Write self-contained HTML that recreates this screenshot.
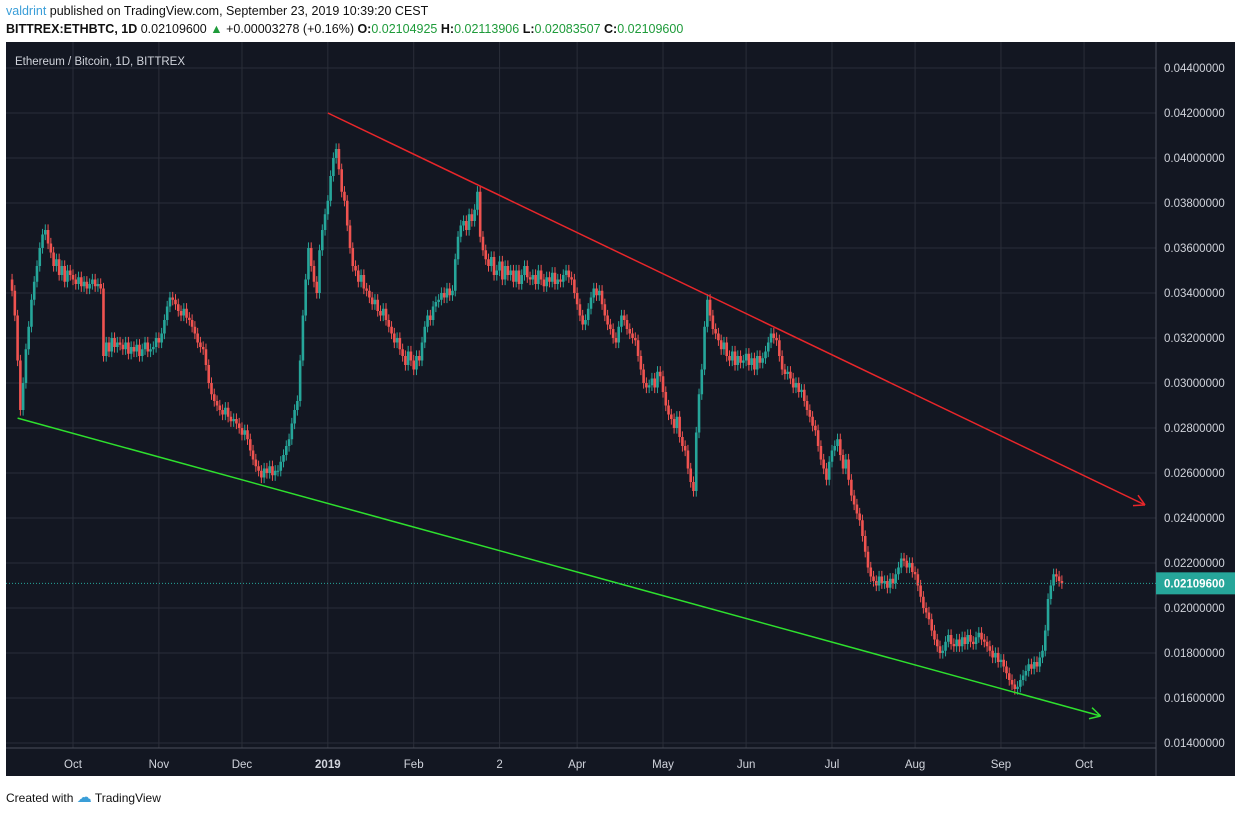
<!DOCTYPE html>
<html><head><meta charset="utf-8">
<style>
body{margin:0;width:1242px;height:813px;background:#fff;font-family:"Liberation Sans",sans-serif;overflow:hidden;position:relative}
.h{position:absolute;left:6px;font-size:12.5px;color:#111;white-space:nowrap}
.g{color:#1e9b3a}
</style></head><body>
<div class="h" style="top:4px"><span style="color:#3a9ed8">valdrint</span> published on TradingView.com, September 23, 2019 10:39:20 CEST</div>
<div class="h" style="top:22px"><b>BITTREX:ETHBTC, 1D</b> 0.02109600 <span class="g">▲</span> +0.00003278 (+0.16%) <b>O:</b><span class="g">0.02104925</span> <b>H:</b><span class="g">0.02113906</span> <b>L:</b><span class="g">0.02083507</span> <b>C:</b><span class="g">0.02109600</span></div>
<svg id="c" width="1242" height="813" style="position:absolute;left:0;top:0"></svg>
<div class="h" style="top:788px;font-size:12px">Created with <span style="color:#3a9ed8;font-size:15px">☁</span> TradingView</div>
<script>
const closes=[341,330,310,288,300,315,325,337,345,352,360,366,368,362,358,352,355,348,352,345,350,348,346,344,347,343,345,342,344,346,343,344,342,312,318,314,320,316,318,317,315,318,313,316,314,317,312,315,318,314,315,316,320,318,322,328,334,338,337,335,332,330,333,329,328,325,322,318,316,315,308,300,295,292,290,288,286,289,285,283,284,282,280,277,279,275,270,266,263,261,258,262,260,263,259,261,261,265,268,272,275,282,288,292,310,330,346,360,352,345,340,359,368,375,381,392,400,404,395,385,381,370,360,352,350,345,348,342,341,338,335,337,332,330,333,328,325,322,318,320,315,312,308,314,310,306,312,310,318,325,330,328,334,336,337,340,338,342,339,341,355,365,370,372,368,375,372,377,385,365,359,355,352,356,348,350,354,346,352,348,350,345,350,344,348,352,347,346,348,344,350,346,343,347,345,349,344,346,345,348,350,347,346,340,335,330,326,328,333,338,342,339,341,335,330,326,324,320,318,325,330,328,324,322,320,319,312,306,300,298,299,302,298,305,303,296,290,286,284,280,285,276,272,270,262,256,252,278,295,306,325,337,330,324,322,319,315,318,312,310,314,308,312,309,310,313,308,311,306,312,309,311,314,318,322,320,319,312,306,304,305,302,298,300,296,297,292,288,285,281,279,272,266,262,257,265,270,272,275,268,262,266,257,250,246,242,239,232,225,218,214,212,210,214,211,212,209,213,211,215,218,222,221,218,220,216,215,210,205,200,198,195,190,186,183,180,181,185,188,184,183,186,183,187,184,188,185,184,187,189,186,185,183,181,178,180,176,177,174,171,168,166,164,165,168,170,172,175,173,176,174,178,181,190,204,210,215,214,212,211];
const yTicks=[0.014,0.016,0.018,0.020,0.022,0.024,0.026,0.028,0.030,0.032,0.034,0.036,0.038,0.040,0.042,0.044];
const monthLabels=["Oct","Nov","Dec","2019","Feb","2","Apr","May","Jun","Jul","Aug","Sep","Oct"];
const monthDays=[0,31,61,92,123,154,182,213,243,274,304,335,365];
const lastDay=357;
const redLine=[[92,0.0420],[387,0.02458]];
const greenLine=[[-20,0.02844],[371,0.0152]];
const lastPrice=0.021096;
const ns="http://www.w3.org/2000/svg",svg=document.getElementById('c');
const X=d=>73+d*2.77, Y=v=>563-(v-0.022)/0.002*45;
function el(t,a,p){const e=document.createElementNS(ns,t);for(const k in a)e.setAttribute(k,a[k]);(p||svg).appendChild(e);return e;}
let e=el('rect',{x:6,y:42,width:1229,height:734,fill:'#131722'});

yTicks.forEach(v=>{let l=el('line',{x1:6,x2:1156,y1:Y(v),y2:Y(v),stroke:'#2a2e39'});
let t=el('text',{x:1164,y:Y(v)+4,fill:'#d1d4dc','font-size':11.5});t.textContent=v.toFixed(8);});
monthLabels.forEach((m,i)=>{const x=X(monthDays[i]);let l=el('line',{x1:x,x2:x,y1:42,y2:748,stroke:'#2a2e39'});
let t=el('text',{x:x,y:768,fill:'#d1d4dc','font-size':11.5,'text-anchor':'middle','font-weight':m=='2019'?'bold':'normal'});t.textContent=m;});
el('line',{x1:6,x2:1156,y1:748,y2:748,stroke:'#4a4e59'});
el('line',{x1:1156,x2:1156,y1:42,y2:776,stroke:'#4a4e59'});
let tt=el('text',{x:15,y:65,fill:'#d1d4dc','font-size':11.5});tt.textContent='Ethereum / Bitcoin, 1D, BITTREX';

const N=closes.length;
closes.forEach((c,i)=>{const cv=c/1e4,ov=(i?closes[i-1]:c+5)/1e4,d=lastDay-(N-1-i),x=X(d);
const col=cv>=ov?'#26a69a':'#ef5350';const hi=Math.max(cv,ov)+0.00025,lo=Math.min(cv,ov)-0.00025;
let w=el('line',{x1:x,x2:x,y1:Y(hi),y2:Y(lo),stroke:col,'stroke-width':1});
let b=el('rect',{x:x-1.3,y:Y(Math.max(cv,ov)),width:2.6,height:Math.max(1,Math.abs(Y(cv)-Y(ov))),fill:col});});
function trend(p,col,name){const x1=X(p[0][0]),y1=Y(p[0][1]),x2=X(p[1][0]),y2=Y(p[1][1]);
let l=el('line',{x1,y1,x2,y2,stroke:col,'stroke-width':1.5});
const a=Math.atan2(y2-y1,x2-x1);[0.5,-0.5].forEach(s=>{el('line',{x1:x2,y1:y2,x2:x2-12*Math.cos(a+s),y2:y2-12*Math.sin(a+s),stroke:col,'stroke-width':1.5});});}
trend(redLine,'#e8262a','resistance-trendline');
trend(greenLine,'#2ee02e','support-trendline');
const py=Y(lastPrice);
let pl=el('line',{x1:6,x2:1156,y1:py,y2:py,stroke:'#26a69a','stroke-dasharray':'1,2'});
let pb=el('rect',{x:1156,y:py-11,width:79,height:22,fill:'#26a69a'});
let pt=el('text',{x:1164,y:py+4,fill:'#fff','font-size':11.5,'font-weight':'bold'});pt.textContent=lastPrice.toFixed(8);
</script>
</body></html>
